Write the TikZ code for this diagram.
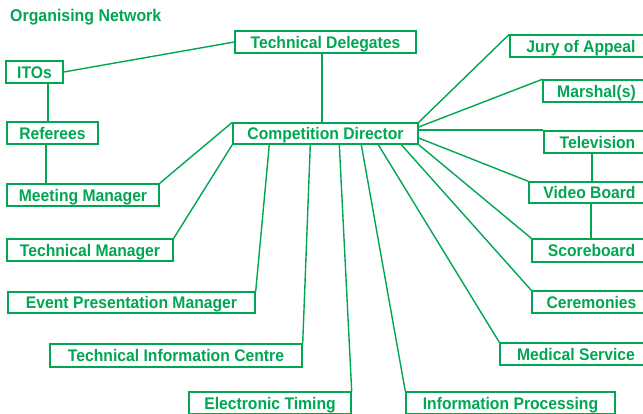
\documentclass[tikz,border=0pt]{standalone}
\usepackage{fontspec}
\usepackage{graphicx}
\setmainfont{Liberation Sans}
\definecolor{ngreen}{RGB}{0,166,81}
\newcommand{\vstretch}[1]{\scalebox{1}[1.07]{#1}}
\tikzset{
  box/.style={draw=ngreen, line width=1.4pt, text=ngreen, font=\fontsize{15.7}{18}\selectfont\bfseries,
    inner sep=0pt, minimum height=22, text height=14, text depth=1.4, anchor=center},
  conn/.style={draw=ngreen, line width=1.4pt},
  titlestyle/.style={text=ngreen, font=\fontsize{15.9}{18}\selectfont\bfseries, inner sep=0pt}
}
\begin{document}
\begin{tikzpicture}[x=1pt,y=-1pt]
\useasboundingbox (0,0) rectangle (643,413);
\clip (0,0) rectangle (643,413);
\node[titlestyle, anchor=base west] (title) at (10,21.7) {\vstretch{Organising Network}};
\node[box, minimum width=181] (td) at (325.5,42) {\vstretch{Technical Delegates}};
\node[box, minimum width=57] (itos) at (34.5,72) {\vstretch{ITOs}};
\node[box, minimum width=91] (ref) at (52.5,133) {\vstretch{Referees}};
\node[box, minimum width=185, minimum height=21] (cd) at (325.5,133.5) {\vstretch{Competition Director}};
\node[box, minimum width=152] (mm) at (83,195) {\vstretch{Meeting Manager}};
\node[box, minimum width=166] (tm) at (90,250) {\vstretch{Technical Manager}};
\node[box, minimum width=247, minimum height=21] (epm) at (131.5,302.5) {\vstretch{Event Presentation Manager}};
\node[box, minimum width=252, minimum height=23] (tic) at (176,355.5) {\vstretch{Technical Information Centre}};
\node[box, minimum width=162] (et) at (270,403) {\vstretch{Electronic Timing}};
\node[box, minimum width=209] (ip) at (510.5,403) {\vstretch{Information Processing}};
\node[box, minimum width=152] (ms) at (576,354) {\vstretch{Medical Service}};
\node[box, minimum width=119] (cer) at (591.5,302) {\vstretch{Ceremonies}};
\node[box, minimum width=119, minimum height=23] (sb) at (591.5,250.5) {\vstretch{Scoreboard}};
\node[box, minimum width=121, minimum height=21] (vb) at (589.5,192.5) {\vstretch{Video Board}};
\node[box, minimum width=107] (tv) at (597.5,142) {\vstretch{Television}};
\node[box, minimum width=107] (mar) at (596.5,91) {\vstretch{Marshal(s)}};
\node[box, minimum width=142] (jury) at (581,46) {\vstretch{Jury of Appeal}};
\draw[conn] (itos.east) -- (td.west);
\draw[conn] ([xshift=13.5]itos.south) -- ([xshift=13.5]itos.south |- ref.north);
\draw[conn] ([xshift=-6.5]ref.south) -- ([xshift=-6.5]ref.south |- mm.north);
\draw[conn] ([xshift=-3.5]td.south) -- ([xshift=-3.5]td.south |- cd.north);
\draw[conn] (cd.north west) -- (mm.north east);
\draw[conn] (cd.south west) -- (tm.north east);
\draw[conn] ([xshift=37]cd.south west) -- (epm.north east);
\draw[conn] ([xshift=78]cd.south west) -- (tic.north east);
\draw[conn] ([xshift=107]cd.south west) -- (et.north east);
\draw[conn] ([xshift=129]cd.south west) -- (ip.north west);
\draw[conn] ([xshift=146]cd.south west) -- (ms.north west);
\draw[conn] ([xshift=169]cd.south west) -- (cer.north west);
\draw[conn] (cd.south east) -- (sb.north west);
\draw[conn] ([yshift=-4.5]cd.east) -- (vb.north west);
\draw[conn, line width=2pt] (cd.east |- tv.north west) -- (tv.north west);
\draw[conn] ([yshift=6.5]cd.east) -- (mar.north west);
\draw[conn] (cd.north east) -- (jury.north west);
\draw[conn] ([xshift=-5.5]tv.south) -- ([xshift=-5.5]tv.south |- vb.north);
\draw[conn] ([xshift=1.5]vb.south) -- ([xshift=1.5]vb.south |- sb.north);
\end{tikzpicture}
\end{document}
